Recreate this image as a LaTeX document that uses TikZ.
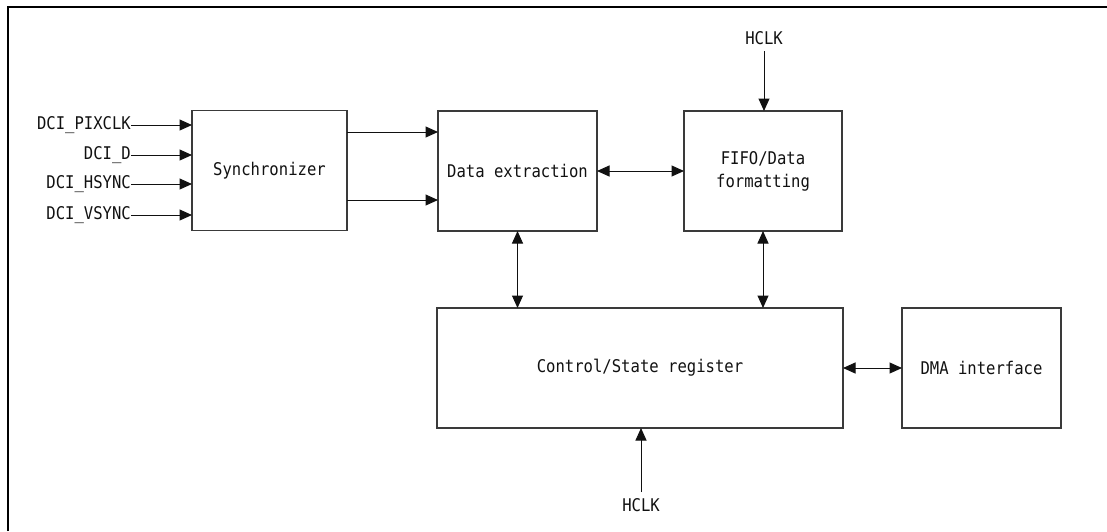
\documentclass[tikz,border=0pt]{standalone}
\usepackage{fontspec}
\usepackage{tikz}
\usetikzlibrary{arrows.meta,positioning}
\newfontfamily\dcifont[FakeStretch=0.89]{DejaVu Sans Mono}
\definecolor{ink}{HTML}{111111}
\definecolor{edge}{HTML}{3A3A3A}
\tikzset{
  blk/.style={draw=edge, line width=1.2pt, inner sep=0pt, outer sep=0pt,
              minimum height=120pt, font=\dcifont\fontsize{17.5}{23}\selectfont,
              align=center, text=ink},
  sgn/.style={inner sep=0pt, font=\dcifont\fontsize{17.5}{23}\selectfont, text=ink},
  ar/.style={-{Triangle[length=12.5pt,width=11pt]}, line width=1pt, draw=ink},
  bi/.style={{Triangle[length=12.5pt,width=11pt]}-{Triangle[length=12.5pt,width=11pt]},
             line width=1pt, draw=ink},
}

\begin{document}
\begin{tikzpicture}[x=1pt, y=-1pt]
    \useasboundingbox (0,0) rectangle (1107,531);
    \draw[line width=1.4pt] (8,531) -- (8,7) -- (1107,7);
    % blocks
    \node[blk, minimum width=155pt] (sync) at (269.5,170.5) {Synchronizer};
    \node[blk, minimum width=159pt] (dext) at (517.5,171) {Data extraction};
    \node[blk, minimum width=158pt] (fifo) at (763,171) {FIFO/Data\\formatting};
    \node[blk, minimum width=406pt] (ctrl) at (640,368) {Control/State register};
    \node[blk, minimum width=159pt] (dma) at (981.5,368) {DMA interface};
    % inputs
    \node[sgn, anchor=east] (pix) at (131,125) {DCI\_PIXCLK};
    \node[sgn, anchor=east] (dd) at (131,155) {DCI\_D};
    \node[sgn, anchor=east] (hs) at (131,184) {DCI\_HSYNC};
    \node[sgn, anchor=east] (vs) at (131,215) {DCI\_VSYNC};
    \foreach \s in {pix,dd,hs,vs}
      \draw[ar] (\s.east) -- (\s.east -| sync.west);
    \draw[ar] (sync.east |- 0,132) -- (dext.west |- 0,132);
    \draw[ar] (sync.east |- 0,200) -- (dext.west |- 0,200);
    \draw[bi] (dext.east) -- (fifo.west);
    \draw[bi] (dext.south) -- (dext.south |- ctrl.north);
    \draw[bi] (fifo.south) -- (fifo.south |- ctrl.north);
    \draw[bi] (ctrl.east) -- (dma.west);
    % clocks
    \node[sgn, inner sep=6pt] (hclka) at (764,38.5) {HCLK};
    \node[sgn, inner sep=6pt] (hclkb) at (641,505) {HCLK};
    \draw[ar] (hclka.south) -- (hclka.south |- fifo.north);
    \draw[ar] (hclkb.north) -- (hclkb.north |- ctrl.south);
  \end{tikzpicture}
\end{document}
